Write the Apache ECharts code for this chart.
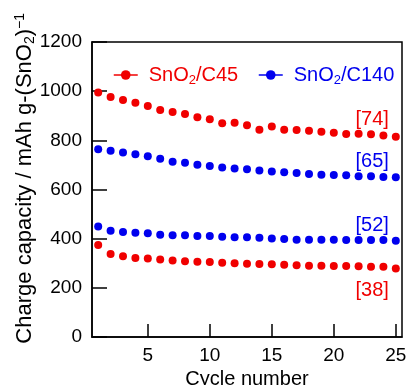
<!DOCTYPE html>
<html><head><meta charset="utf-8">
<script src="https://cdn.jsdelivr.net/npm/echarts@6/dist/echarts.min.js"></script>
<style>html,body{margin:0;padding:0;background:#fff}#c{width:408px;height:385px}</style>
</head><body><div id="c"></div>
<script>
const cycles = [1,2,3,4,5,6,7,8,9,10,11,12,13,14,15,16,17,18,19,20,21,22,23,24,25];
const c45High = [995,976,964,953,940,923,915,907,894,886,869,872,861,843,856,843,842,839,835,831,826,827,825,820,815];
const c45Low  = [374,338,328,321,319,315,311,308,306,305,302,300,298,297,296,294,292,290,290,289,289,288,286,286,279];
const c140High = [764,758,751,743,735,725,713,709,701,696,690,685,682,677,673,670,667,663,660,659,658,654,654,651,650];
const c140Low  = [449,432,427,424,422,416,414,414,411,411,408,406,406,404,401,399,396,396,396,396,395,395,395,395,392];
const xTicks = [5,10,15,20,25];
const annotLabels = ['[74]','[65]','[52]','[38]'];
const annotX = [23.1,23.1,23.1,23.1];
const annotY = [885,712,452,191];
const RED = '#f00000', BLUE = '#0000ee';
const FONT = 'Liberation Sans';

const chart = echarts.init(document.getElementById('c'));
function pairs(v){ return cycles.map((c,i)=>[c,v[i]]); }
function mk(i,color){
  return {symbol:'circle', symbolSize:0, silent:true,
    data:[{coord:[annotX[i],annotY[i]], value:annotLabels[i]}],
    label:{show:true, position:'inside', formatter:annotLabels[i], color:color, fontSize:20, fontFamily:FONT}};
}
function ser(name,data,color,mp){
  return {type:'line', name:name, data:pairs(data), symbol:'circle', symbolSize:8,
    showSymbol:true, itemStyle:{color:color}, lineStyle:{width:0, opacity:0, color:color},
    emphasis:{disabled:true}, animation:false, markPoint:mp};
}
const rich = (color)=>({
  a:{fontSize:20, fontFamily:FONT, color:color},
  s:{fontSize:13, fontFamily:FONT, color:color, padding:[10,0,0,0]}
});
const legBase = {top:60, itemWidth:24, itemHeight:12,
  lineStyle:{width:1.5, opacity:1, color:'inherit'}, selectedMode:false};
chart.setOption({
  animation:false,
  grid:{left:92, right:6, top:42, bottom:48, show:true, borderColor:'#000', borderWidth:1.5, outerBoundsMode:'none', containLabel:false},
  legend:[
    Object.assign({}, legBase, {left:108, data:['SnO2/C45'],
      formatter:()=>'{a|SnO}{s|2}{a|/C45}', textStyle:{rich:rich(RED), padding:[0,0,0,6]}}),
    Object.assign({}, legBase, {left:253, data:['SnO2/C140'],
      formatter:()=>'{a|SnO}{s|2}{a|/C140}', textStyle:{rich:rich(BLUE), padding:[0,0,0,6]}})
  ],
  xAxis:{type:'value', min:0.5, max:25.5,
    axisLine:{lineStyle:{color:'#000', width:1.5}},
    axisTick:{inside:true, length:13, customValues:xTicks, lineStyle:{color:'#000', width:1.5}},
    axisLabel:{customValues:xTicks, color:'#000', fontSize:19, fontFamily:FONT, margin:9},
    splitLine:{show:false},
    name:'Cycle number', nameLocation:'middle', nameGap:27,
    nameTextStyle:{color:'#000', fontSize:20, fontFamily:FONT}},
  yAxis:{type:'value', min:0, max:1200, interval:200,
    axisLine:{show:true, lineStyle:{color:'#000', width:1.5}},
    axisTick:{show:true, inside:true, length:15, lineStyle:{color:'#000', width:1.5}},
    axisLabel:{color:'#000', fontSize:19, fontFamily:FONT, margin:10, formatter:(v)=>String(v)},
    splitLine:{show:false}},
  graphic:[{type:'text',
    left:13, top:13, rotation:Math.PI/2,
    style:{text:'{a|Charge capacity / mAh g-(SnO}{s|2}{a|)}{p|−1}', rich:{
      a:{fontSize:22, fontFamily:FONT, fill:'#000'},
      s:{fontSize:14, fontFamily:FONT, fill:'#000', padding:[10,0,0,0]},
      p:{fontSize:14, fontFamily:FONT, fill:'#000', padding:[0,0,10,0]}}}}],
  series:[
    ser('SnO2/C45', c45High, RED, mk(0,RED)),
    ser('SnO2/C45', c45Low, RED, mk(3,RED)),
    ser('SnO2/C140', c140High, BLUE, mk(1,BLUE)),
    ser('SnO2/C140', c140Low, BLUE, mk(2,BLUE))
  ]
});
</script></body></html>
